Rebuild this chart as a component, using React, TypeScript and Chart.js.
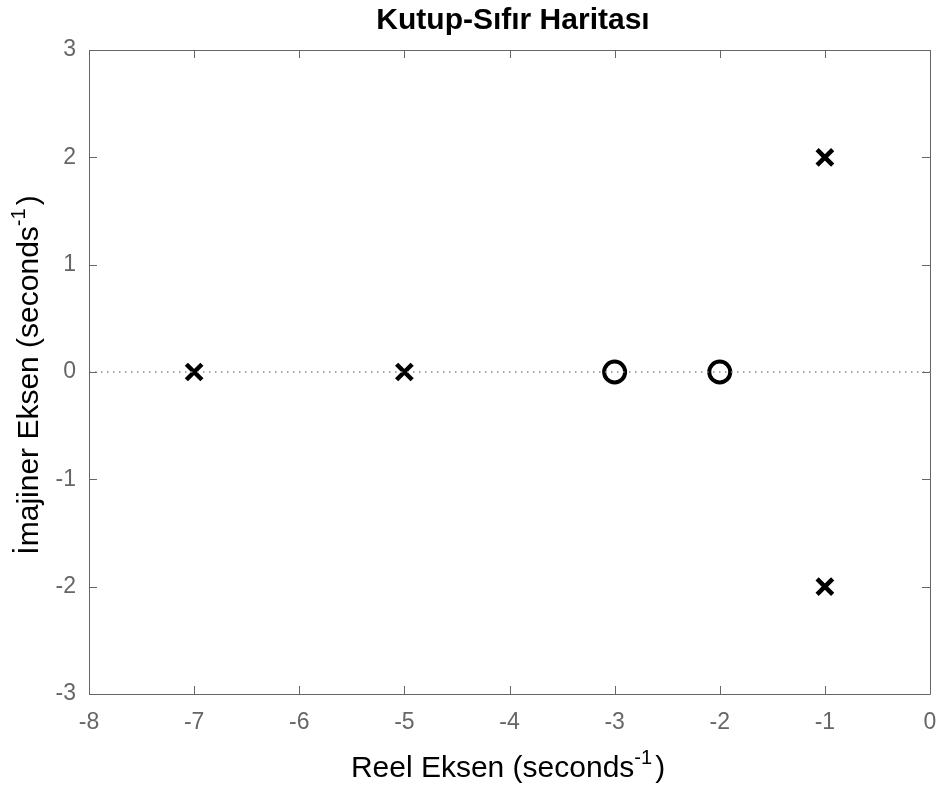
import React, { useEffect, useRef } from "react";
import { Chart, registerables } from "chart.js";

Chart.register(...registerables);

const poleRe = [-7, -5, -1, -1];
const poleIm = [0, 0, 2, -2];
const zeroRe = [-3, -2];
const zeroIm = [0, 0];
const xRange = [-8, 0];
const yRange = [-3, 3];
const titleText = "Kutup-Sıfır Haritası";
const xLabel = "Reel Eksen (seconds";
const yLabel = "İmajiner Eksen (seconds";
const supText = "-1";

const FONT = "'Liberation Sans', Arial, sans-serif";
const AXIS_COLOR = "#666666";

const framePlugin = {
  id: "frame",
  afterDraw(chart: any) {
    const { ctx, chartArea } = chart;
    const xs = chart.scales.x;
    const ys = chart.scales.y;
    const { left, right, top, bottom } = chartArea;
    ctx.save();
    ctx.strokeStyle = AXIS_COLOR;
    ctx.lineWidth = 1;
    ctx.beginPath();
    ctx.rect(Math.round(left) + 0.5, Math.round(top) + 0.5, Math.round(right - left), Math.round(bottom - top));
    ctx.stroke();
    const tl = 8;
    ctx.beginPath();
    xs.ticks.forEach((t: any) => {
      const px = Math.round(xs.getPixelForValue(t.value)) + 0.5;
      ctx.moveTo(px, bottom);
      ctx.lineTo(px, bottom - tl);
      ctx.moveTo(px, top);
      ctx.lineTo(px, top + tl);
    });
    ys.ticks.forEach((t: any) => {
      const py = Math.round(ys.getPixelForValue(t.value)) + 0.5;
      ctx.moveTo(left, py);
      ctx.lineTo(left + tl, py);
      ctx.moveTo(right, py);
      ctx.lineTo(right - tl, py);
    });
    ctx.stroke();

    // title
    ctx.fillStyle = "#000";
    ctx.font = `bold 30px ${FONT}`;
    ctx.textAlign = "center";
    ctx.textBaseline = "alphabetic";
    ctx.fillText(titleText, 513, 29);

    const drawLabel = (main: string, cx: number, rot: number, fixed: number) => {
      ctx.save();
      if (rot === 0) ctx.translate(cx, fixed);
      else ctx.translate(fixed, cx);
      ctx.rotate(rot);
      const mainFont = `30px ${FONT}`;
      const supFont = `20px ${FONT}`;
      ctx.font = mainFont;
      const w1 = ctx.measureText(main).width;
      const w3 = ctx.measureText(")").width;
      ctx.font = supFont;
      const w2 = ctx.measureText(supText).width;
      const total = w1 + w2 + w3 + 3;
      let x = -total / 2;
      ctx.textAlign = "left";
      ctx.textBaseline = "alphabetic";
      ctx.fillStyle = "#000";
      ctx.font = mainFont;
      ctx.fillText(main, x, 0);
      x += w1;
      ctx.font = supFont;
      ctx.fillText(supText, x, -13);
      x += w2 + 3;
      ctx.font = mainFont;
      ctx.fillText(")", x, 0);
      ctx.restore();
    };
    drawLabel(xLabel, 508, 0, 777);
    drawLabel(yLabel, 375, -Math.PI / 2, 38);
    ctx.restore();
  },
};

export default function App() {
  const ref = useRef<HTMLCanvasElement | null>(null);
  useEffect(() => {
    document.body.style.margin = "0";
    const canvas = ref.current!;
    const chart = new Chart(canvas, {
      type: "scatter",
      data: {
        datasets: [
          {
            data: [
              { x: xRange[0], y: 0 },
              { x: xRange[1], y: 0 },
            ],
            showLine: true,
            borderColor: "#8c8c8c",
            borderWidth: 1.4,
            borderDash: [1.5, 4.5],
            pointRadius: 0,
          },
          {
            data: poleRe.map((x, i) => ({ x, y: poleIm[i] })),
            pointStyle: "crossRot",
            pointRadius: 11,
            borderWidth: 4.5,
            borderColor: "#000",
            backgroundColor: "#000",
            showLine: false,
          },
          {
            data: zeroRe.map((x, i) => ({ x, y: zeroIm[i] })),
            pointStyle: "circle",
            pointRadius: 10.5,
            borderWidth: 4,
            borderColor: "#000",
            backgroundColor: "rgba(0,0,0,0)",
            showLine: false,
          },
        ],
      },
      options: {
        animation: false,
        responsive: false,
        layout: { autoPadding: false, padding: { top: 50, right: 8, left: 0, bottom: 0 } },
        plugins: { legend: { display: false }, tooltip: { enabled: false }, title: { display: false } },
        scales: {
          x: {
            type: "linear",
            min: xRange[0],
            max: xRange[1],
            grid: { display: false, drawTicks: false },
            border: { display: false },
            ticks: { stepSize: 1, color: AXIS_COLOR, font: { family: FONT, size: 23 }, padding: 15, maxRotation: 0 },
            afterFit: (s: any) => {
              s.height = 94;
              s.paddingLeft = 0;
              s.paddingRight = 0;
            },
          },
          y: {
            type: "linear",
            min: yRange[0],
            max: yRange[1],
            grid: { display: false, drawTicks: false },
            border: { display: false },
            ticks: { stepSize: 1, color: AXIS_COLOR, font: { family: FONT, size: 23 }, padding: 13 },
            afterFit: (s: any) => {
              s.width = 89;
              s.paddingTop = 0;
              s.paddingBottom = 0;
            },
          },
        },
      },
      plugins: [framePlugin],
    });
    return () => chart.destroy();
  }, []);
  return <canvas ref={ref} width={938} height={788} style={{ display: "block" }} />;
}
